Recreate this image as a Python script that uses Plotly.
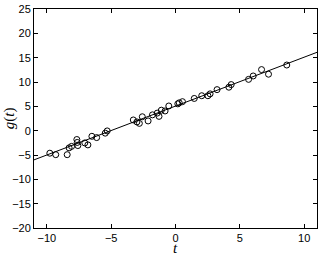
import plotly.graph_objects as go

t_vals = [-9.77, -9.31, -8.42, -8.27, -8.08, -7.67, -7.64, -7.59, -7.05, -6.81,
          -6.50, -6.13, -5.46, -5.31, -3.28, -3.00, -2.81, -2.58, -2.13, -1.79,
          -1.42, -1.28, -1.10, -0.81, -0.52, 0.18, 0.29, 0.54, 1.46, 2.04,
          2.52, 2.69, 3.23, 4.15, 4.33, 5.68, 6.04, 6.69, 7.23, 8.65]
g_vals = [-4.63, -4.93, -4.93, -3.53, -3.23, -1.82, -2.42, -3.06, -2.52, -2.92,
          -1.16, -1.42, -0.51, -0.05, 2.20, 1.80, 1.50, 2.86, 2.00, 3.25,
          3.61, 2.94, 4.21, 4.05, 5.07, 5.51, 5.72, 5.96, 6.62, 7.18,
          7.18, 7.56, 8.43, 8.93, 9.47, 10.54, 11.24, 12.55, 11.60, 13.49]
fit_t = [-11, 11]
fit_g = [-6.0, 16.1]
x_ticks = [-10, -5, 0, 5, 10]
y_ticks = [-20, -15, -10, -5, 0, 5, 10, 15, 20, 25]

fig = go.Figure()
fig.add_trace(go.Scatter(x=fit_t, y=fit_g, mode="lines",
                         line=dict(color="black", width=1), showlegend=False))
fig.add_trace(go.Scatter(x=t_vals, y=g_vals, mode="markers",
                         marker=dict(symbol="circle-open", size=6,
                                     color="black", line=dict(width=1)),
                         showlegend=False))

axis_common = dict(showgrid=False, zeroline=False, showline=True,
                   linecolor="black", linewidth=1, mirror="ticks",
                   ticks="inside", ticklen=4, tickcolor="black",
                   ticklabeloverflow="allow",
                   tickfont=dict(family="Liberation Sans, Arial", size=11, color="black"))
fig.update_xaxes(range=[-11, 11], tickvals=x_ticks, **axis_common)
fig.update_yaxes(range=[-20, 25], tickvals=y_ticks, **axis_common)

fig.update_layout(
    width=321, height=256,
    margin=dict(l=34, r=3, t=4, b=28),
    paper_bgcolor="white", plot_bgcolor="white",
    annotations=[
        dict(text="<i>t</i>", x=0.5, y=-0.091, xref="paper", yref="paper",
             xanchor="center", yanchor="middle", showarrow=False,
             font=dict(family="Liberation Serif, DejaVu Serif", size=15, color="black")),
        dict(text="<i>g</i>(<i>t</i>)", x=-0.086, y=0.5, xref="paper", yref="paper",
             xanchor="center", yanchor="middle", showarrow=False, textangle=-90,
             font=dict(family="Liberation Serif, DejaVu Serif", size=15, color="black")),
    ],
)

fig.write_html("out.html")
